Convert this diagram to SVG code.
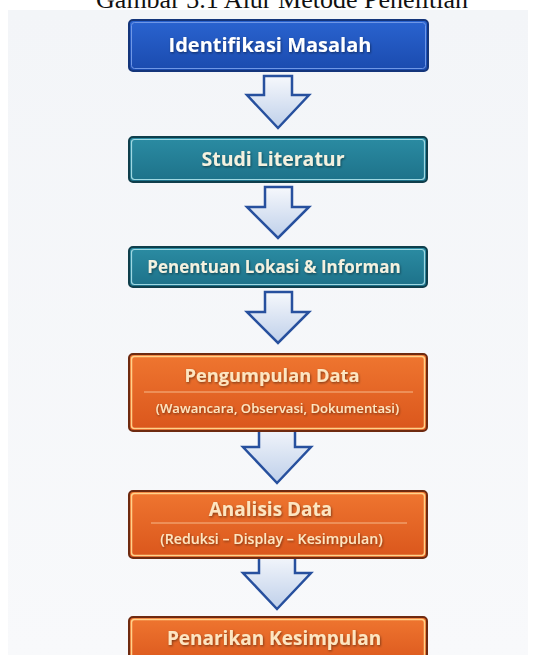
<svg xmlns="http://www.w3.org/2000/svg" width="536" height="655" viewBox="0 0 536 655">
<defs>
<linearGradient id="gBlue" x1="0" y1="0" x2="0" y2="1"><stop offset="0" stop-color="#2a64d0"/><stop offset="1" stop-color="#1a4aae"/></linearGradient>
<linearGradient id="gTeal" x1="0" y1="0" x2="0" y2="1"><stop offset="0" stop-color="#2b8ca3"/><stop offset="1" stop-color="#1d7189"/></linearGradient>
<linearGradient id="gOrange" x1="0" y1="0" x2="0" y2="1"><stop offset="0" stop-color="#ef7630"/><stop offset="1" stop-color="#da561c"/></linearGradient>
<linearGradient id="gArrow" x1="0" y1="0" x2="0" y2="1"><stop offset="0" stop-color="#f6f8fc"/><stop offset="1" stop-color="#bfd0ea"/></linearGradient>
<linearGradient id="gBg" x1="0" y1="0" x2="0" y2="1"><stop offset="0" stop-color="#f3f5f8"/><stop offset="1" stop-color="#f8f9fb"/></linearGradient>
<filter id="sh" x="-5%" y="-20%" width="110%" height="150%"><feDropShadow dx="0.8" dy="1.2" stdDeviation="0.8" flood-color="#000" flood-opacity="0.45"/></filter>
</defs>
<style>
.title{font-family:"Liberation Serif",serif;font-size:26px;fill:#111;}
.t{font-family:"Open Sans","DejaVu Sans",sans-serif;font-weight:bold;text-anchor:middle;filter:url(#sh);}
.sub{font-family:"Open Sans","DejaVu Sans",sans-serif;font-weight:600;text-anchor:middle;fill:#fce6c2;filter:url(#sh);}
.blue{fill:url(#gBlue);stroke:#14357a;stroke-width:2;}
.teal{fill:url(#gTeal);stroke:#0f3e4b;stroke-width:2;}
.orange{fill:url(#gOrange);stroke:#6e2a10;stroke-width:2;}
.inBlue{fill:none;stroke:#6f97e6;stroke-width:1;}
.inTeal{fill:none;stroke:#9fd8e2;stroke-width:1.2;}
.inOrange{fill:none;stroke:#ffd28a;stroke-width:1.5;}
.sep{stroke:#f6b98a;stroke-width:1;}
.arrow{fill:url(#gArrow);stroke:#27509e;stroke-width:2.5;stroke-linejoin:miter;}
</style>
<rect x="0" y="0" width="536" height="655" fill="#ffffff"/>
<rect x="8" y="10" width="520" height="645" fill="url(#gBg)"/>
<text class="title" x="282" y="8" text-anchor="middle">Gambar 3.1 Alur Metode Penelitian</text>

<g id="connectors">
<path class="arrow" d="M264,76 H292 V95 H309 L278,128 L247,95 H264 Z"/>
<path class="arrow" d="M265,187 H292 V207 H309 L278,238 L247,207 H265 Z"/>
<path class="arrow" d="M265,292 H292 V312 H309 L278,343 L247,312 H265 Z"/>
<path class="arrow" d="M259,424 H295 V447 H311 L277,483 L243,447 H259 Z"/>
<path class="arrow" d="M259,553 H295 V573 H311 L277,609 L243,573 H259 Z"/>
</g>

<g id="n1">
<rect class="blue" x="129" y="20" width="299" height="51" rx="4"/>
<rect class="inBlue" x="131.5" y="22.5" width="294" height="46" rx="3"/>
<text class="t" x="270" y="52" font-size="20" fill="#ffffff">Identifikasi Masalah</text>
</g>
<g id="n2">
<rect class="teal" x="129" y="137" width="298" height="45" rx="4"/>
<rect class="inTeal" x="131.5" y="139.5" width="293" height="40" rx="3"/>
<text class="t" x="273" y="166" font-size="19.5" fill="#f4f1df">Studi Literatur</text>
</g>
<g id="n3">
<rect class="teal" x="129" y="247" width="298" height="40" rx="4"/>
<rect class="inTeal" x="131.5" y="249.5" width="293" height="35" rx="3"/>
<text class="t" x="274" y="273" font-size="17" fill="#f4f1df">Penentuan Lokasi &amp; Informan</text>
</g>
<g id="n4">
<rect class="orange" x="129" y="354" width="298" height="77" rx="4"/>
<rect class="inOrange" x="131.5" y="356.5" width="293" height="72" rx="3"/>
<text class="t" x="272" y="382" font-size="18.3" fill="#fce6c2">Pengumpulan Data</text>
<line class="sep" x1="144" y1="392" x2="413" y2="392"/>
<text class="sub" x="277.5" y="413" font-size="13.1">(Wawancara, Observasi, Dokumentasi)</text>
</g>
<g id="n5">
<rect class="orange" x="129" y="491" width="298" height="67" rx="4"/>
<rect class="inOrange" x="131.5" y="493.5" width="293" height="62" rx="3"/>
<text class="t" x="270.5" y="516" font-size="19" fill="#fce6c2">Analisis Data</text>
<line class="sep" x1="151" y1="523" x2="407" y2="523"/>
<text class="sub" x="271.5" y="544" font-size="14.2">(Reduksi – Display – Kesimpulan)</text>
</g>
<g id="n6">
<rect class="orange" x="129" y="617" width="298" height="50" rx="4"/>
<rect class="inOrange" x="131.5" y="619.5" width="293" height="45" rx="3"/>
<text class="t" x="274" y="645" font-size="19" fill="#fce6c2">Penarikan Kesimpulan</text>
</g>
</svg>
